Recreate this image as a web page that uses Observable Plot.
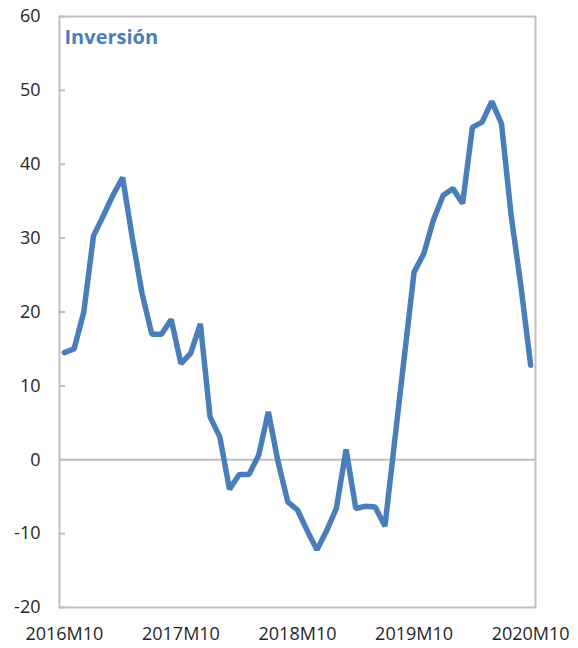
<!DOCTYPE html>
<html>
<head>
<meta charset="utf-8">
<script src="https://cdn.jsdelivr.net/npm/d3@7"></script>
<script src="https://cdn.jsdelivr.net/npm/@observablehq/plot@0.6"></script>
<style>
  html, body { margin: 0; padding: 0; background: #fff; }
</style>
</head>
<body>
<div id="chart"></div>
<script>
// Monthly series, 2016M10 .. 2020M10 (index 0..48)
const title = "Inversión";
const values = [14.5, 15, 20, 30.3, 33, 35.8, 38.2, 30, 22.5, 17, 17, 19, 13, 14.4, 18.4,
  5.8, 3.1, -4, -2, -2, 0.6, 6.5, -0.3, -5.7, -6.8, -9.6, -12.2, -9.6, -6.6, 1.4, -6.6,
  -6.3, -6.4, -9, 2.5, 14, 25.4, 27.9, 32.5, 35.8, 36.7, 34.7, 45, 45.7, 48.5, 45.5,
  33, 23.5, 12.8];
const xTickIndex = [0, 12, 24, 36, 48];
const xTickLabels = ["2016M10", "2017M10", "2018M10", "2019M10", "2020M10"];
const yTicks = [-20, -10, 0, 10, 20, 30, 40, 50, 60];

const data = values.map((v, i) => ({i, v}));
const blue = "#4a7ebb";
const grey = "#bfbfbf";

const chart = Plot.plot({
  width: 578,
  height: 648,
  marginLeft: 59,
  marginRight: 43,
  marginTop: 16,
  marginBottom: 41,
  style: {fontFamily: "'Open Sans', sans-serif", fontSize: "18px", color: "#262626", background: "#fff"},
  x: {domain: [-0.5, 48.5]},
  y: {domain: [-20, 60]},
  marks: [
    Plot.ruleY([0], {stroke: grey, strokeWidth: 2}),
    Plot.frame({stroke: grey, strokeWidth: 2}),
    Plot.axisY({ticks: yTicks, tickFormat: d => String(d), tickSize: -6, tickPadding: 25, stroke: grey, strokeWidth: 2, label: null}),
    Plot.axisX({ticks: xTickIndex, tickFormat: d => xTickLabels[xTickIndex.indexOf(d)], tickSize: 0, tickPadding: 20, label: null}),
    Plot.line(data, {x: "i", y: "v", stroke: blue, strokeWidth: 5.5, strokeLinejoin: "miter", strokeLinecap: "round"}),
    Plot.text([title], {frameAnchor: "top-left", dx: 5, dy: 13, lineAnchor: "top", textAnchor: "start", fontSize: 20, fontWeight: "bold", fill: blue})
  ]
});
document.getElementById("chart").appendChild(chart);
</script>
</body>
</html>
